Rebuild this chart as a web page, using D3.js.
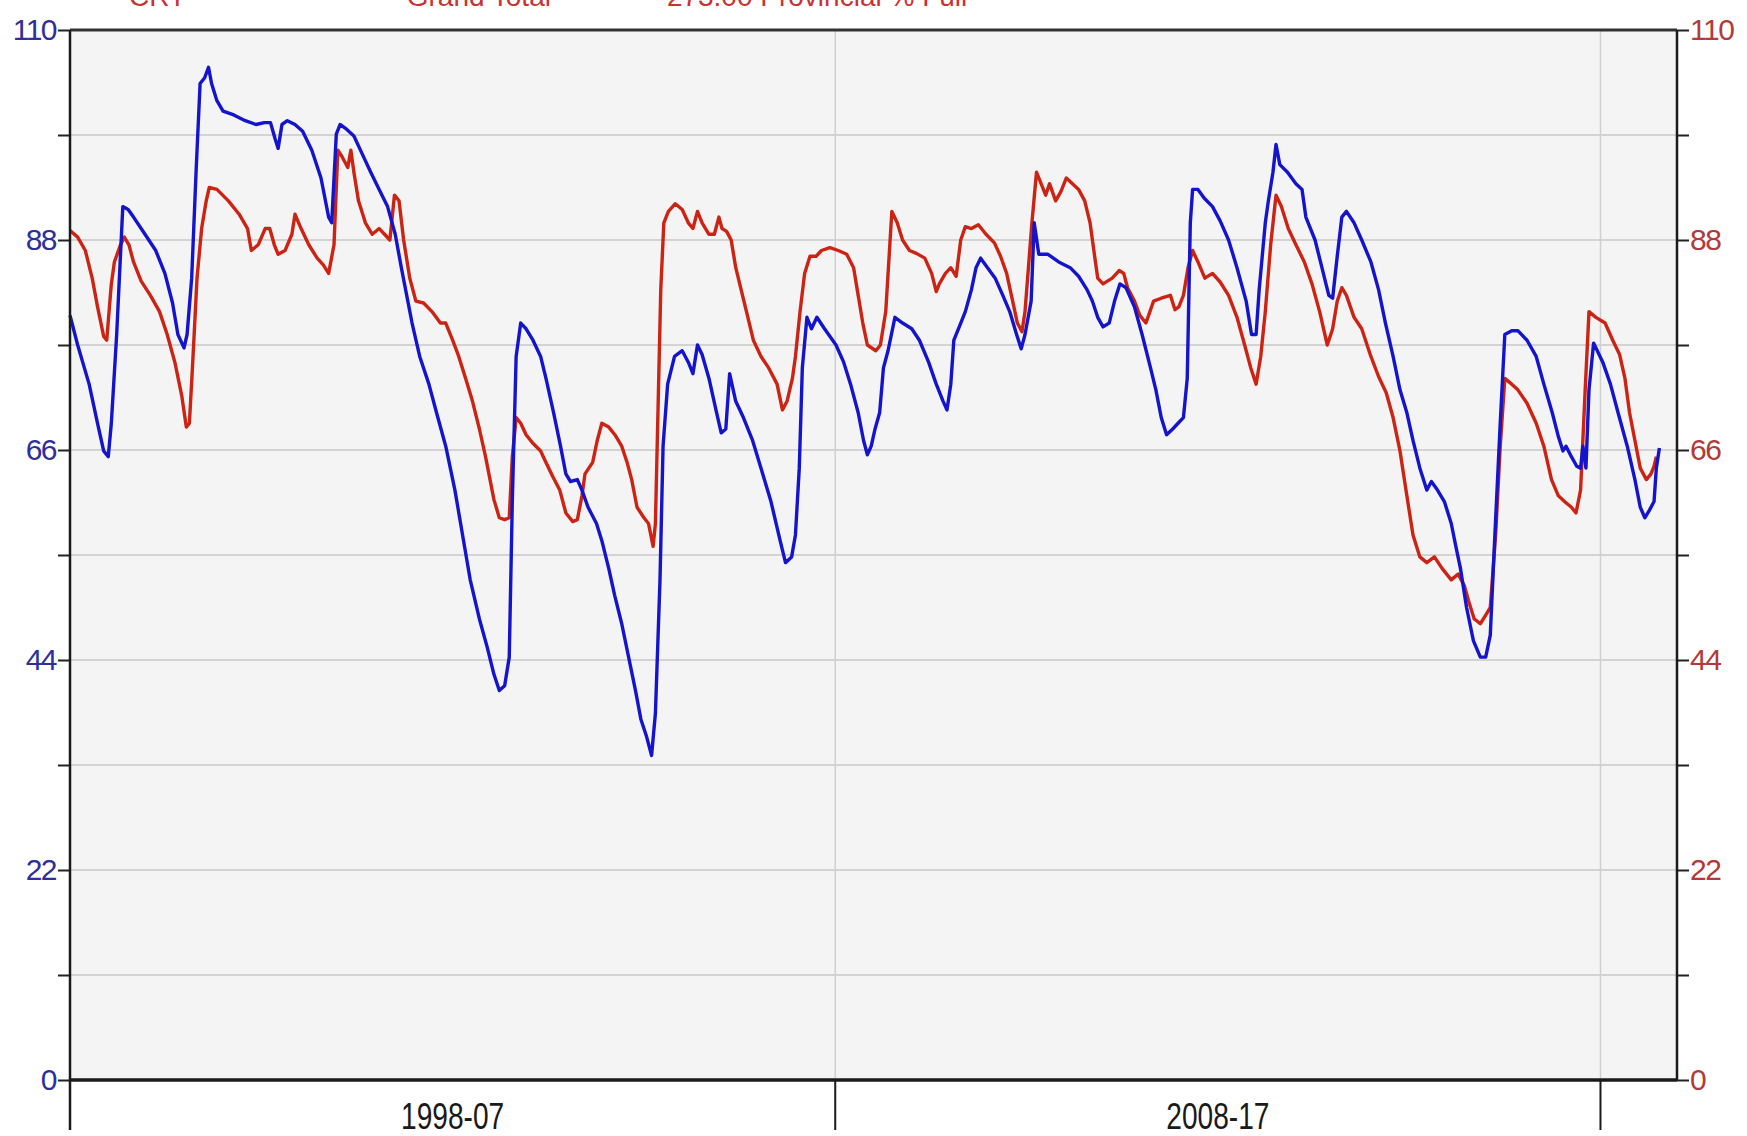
<!DOCTYPE html>
<html>
<head>
<meta charset="utf-8">
<script src="https://cdn.jsdelivr.net/npm/d3@7"></script>
<style>
  body { margin: 0; background: #fff; }
  svg { display: block; font-family: "Liberation Sans", Arial, sans-serif; }
</style>
</head>
<body>
<div id="chart"></div>
<script>
// header texts (cut off at the top of the picture, as in the original)
const headerTexts = ["CRT", "Grand Total", "273.00  Provincial % Full"];
const headerYears = [1993.77, 1997.4, 2000.8];

const yTicks = d3.range(0, 111, 11);
const xTicks = [1993, 2003, 2013];
const xLabels = ["1998-07", "2008-17"];
const xLabelYears = [1998, 2008];

// blue series (left axis)
const blueData = [[1993.00,80.1],[1993.10,77.0],[1993.25,72.9],[1993.36,68.8],[1993.44,65.9],[1993.50,65.3],[1993.54,68.8],[1993.61,78.1],[1993.69,91.5],[1993.76,91.2],[1993.83,90.4],[1993.98,88.6],[1994.12,86.9],[1994.24,84.5],[1994.34,81.4],[1994.41,78.1],[1994.49,76.7],[1994.53,78.1],[1994.59,84.0],[1994.65,95.6],[1994.70,104.4],[1994.76,105.0],[1994.81,106.1],[1994.85,104.4],[1994.92,102.6],[1995.00,101.5],[1995.14,101.1],[1995.29,100.5],[1995.43,100.1],[1995.54,100.3],[1995.62,100.3],[1995.68,98.6],[1995.72,97.6],[1995.77,100.1],[1995.84,100.5],[1995.94,100.1],[1996.04,99.4],[1996.16,97.4],[1996.28,94.5],[1996.38,90.4],[1996.42,89.8],[1996.48,99.1],[1996.53,100.1],[1996.60,99.7],[1996.71,98.9],[1996.82,97.0],[1996.93,95.1],[1997.04,93.3],[1997.15,91.5],[1997.25,88.6],[1997.33,85.1],[1997.40,82.2],[1997.47,79.3],[1997.57,75.8],[1997.69,72.9],[1997.79,69.9],[1997.91,66.4],[1998.03,61.8],[1998.13,57.1],[1998.23,52.4],[1998.35,48.3],[1998.45,45.4],[1998.54,42.5],[1998.61,40.8],[1998.68,41.3],[1998.74,44.3],[1998.78,60.6],[1998.83,75.8],[1998.89,79.3],[1998.96,78.7],[1999.05,77.5],[1999.15,75.8],[1999.22,73.5],[1999.32,69.9],[1999.41,66.4],[1999.48,63.5],[1999.54,62.7],[1999.63,62.9],[1999.69,61.8],[1999.77,60.0],[1999.88,58.3],[1999.95,56.5],[2000.04,53.6],[2000.12,50.7],[2000.21,47.8],[2000.30,44.3],[2000.39,40.8],[2000.46,37.8],[2000.53,36.1],[2000.60,34.0],[2000.65,38.4],[2000.71,52.4],[2000.75,66.4],[2000.81,72.9],[2000.90,75.8],[2001.00,76.4],[2001.08,75.2],[2001.14,74.0],[2001.20,77.0],[2001.26,76.0],[2001.35,73.5],[2001.45,69.9],[2001.51,67.8],[2001.57,68.2],[2001.62,74.0],[2001.70,71.1],[2001.80,69.4],[2001.92,67.0],[2002.03,64.1],[2002.16,60.6],[2002.28,56.5],[2002.35,54.2],[2002.43,54.8],[2002.48,57.1],[2002.53,64.1],[2002.57,74.6],[2002.63,79.9],[2002.69,78.7],[2002.76,79.9],[2002.86,78.7],[2003.01,77.0],[2003.11,75.2],[2003.20,72.9],[2003.30,69.9],[2003.37,67.0],[2003.42,65.5],[2003.47,66.4],[2003.52,68.2],[2003.58,69.9],[2003.63,74.6],[2003.69,76.4],[2003.78,79.9],[2003.88,79.3],[2004.00,78.7],[2004.10,77.5],[2004.22,75.2],[2004.32,72.9],[2004.41,71.1],[2004.46,70.2],[2004.51,72.9],[2004.55,77.5],[2004.61,78.7],[2004.70,80.5],[2004.78,82.8],[2004.84,85.1],[2004.90,86.1],[2004.99,85.1],[2005.09,84.0],[2005.19,82.2],[2005.28,80.5],[2005.37,78.1],[2005.43,76.6],[2005.48,78.1],[2005.56,81.6],[2005.60,89.8],[2005.66,86.5],[2005.78,86.5],[2005.92,85.7],[2006.07,85.1],[2006.18,84.2],[2006.29,82.8],[2006.36,81.6],[2006.43,79.9],[2006.50,78.9],[2006.58,79.3],[2006.65,81.6],[2006.72,83.4],[2006.80,83.0],[2006.91,81.0],[2007.01,78.1],[2007.12,74.6],[2007.19,72.3],[2007.26,69.4],[2007.33,67.6],[2007.41,68.2],[2007.48,68.8],[2007.55,69.4],[2007.60,73.5],[2007.64,89.8],[2007.67,93.3],[2007.74,93.3],[2007.82,92.4],[2007.93,91.5],[2008.03,90.0],[2008.14,88.0],[2008.25,85.1],[2008.37,81.6],[2008.44,78.1],[2008.50,78.1],[2008.54,82.8],[2008.62,89.8],[2008.66,92.1],[2008.72,95.1],[2008.76,98.0],[2008.81,95.9],[2008.91,95.1],[2009.02,93.9],[2009.10,93.3],[2009.15,90.4],[2009.27,88.0],[2009.36,85.1],[2009.45,82.2],[2009.50,81.9],[2009.56,86.3],[2009.62,90.4],[2009.68,91.0],[2009.78,89.8],[2009.88,88.0],[2010.00,85.7],[2010.10,82.8],[2010.19,79.3],[2010.29,75.8],[2010.38,72.3],[2010.47,69.9],[2010.55,67.0],[2010.64,64.1],[2010.73,61.8],[2010.79,62.7],[2010.87,61.8],[2010.96,60.6],[2011.05,58.3],[2011.11,55.9],[2011.17,53.6],[2011.25,49.5],[2011.34,46.0],[2011.43,44.3],[2011.50,44.3],[2011.56,46.6],[2011.62,57.1],[2011.69,68.8],[2011.75,78.1],[2011.84,78.5],[2011.92,78.5],[2012.04,77.5],[2012.16,75.8],[2012.26,72.9],[2012.37,69.9],[2012.45,67.4],[2012.51,65.9],[2012.55,66.4],[2012.62,65.3],[2012.69,64.3],[2012.74,64.1],[2012.77,66.4],[2012.81,64.1],[2012.85,72.3],[2012.91,77.2],[2013.03,75.2],[2013.13,72.9],[2013.23,69.9],[2013.35,66.4],[2013.45,62.9],[2013.52,60.0],[2013.58,58.9],[2013.64,59.7],[2013.70,60.6],[2013.73,64.1],[2013.77,66.2]];

// red series (right axis)
const redData = [[1993.00,89.0],[1993.10,88.3],[1993.20,86.9],[1993.29,84.0],[1993.36,81.0],[1993.44,77.9],[1993.48,77.5],[1993.54,83.4],[1993.58,85.7],[1993.66,87.5],[1993.71,88.3],[1993.77,87.5],[1993.83,85.7],[1993.93,83.7],[1994.05,82.2],[1994.17,80.5],[1994.27,78.1],[1994.37,75.2],[1994.46,71.7],[1994.52,68.4],[1994.56,68.8],[1994.60,74.6],[1994.66,84.0],[1994.72,89.2],[1994.78,92.1],[1994.82,93.5],[1994.92,93.3],[1995.07,92.1],[1995.21,90.7],[1995.32,89.2],[1995.37,86.9],[1995.46,87.5],[1995.55,89.2],[1995.61,89.2],[1995.67,87.5],[1995.72,86.5],[1995.81,86.9],[1995.90,88.6],[1995.94,90.7],[1996.02,89.2],[1996.12,87.5],[1996.23,86.1],[1996.31,85.4],[1996.38,84.5],[1996.45,87.5],[1996.50,97.4],[1996.55,96.8],[1996.63,95.6],[1996.67,97.4],[1996.71,95.1],[1996.77,92.1],[1996.86,89.8],[1996.95,88.6],[1997.04,89.2],[1997.11,88.6],[1997.18,88.0],[1997.24,92.7],[1997.30,92.1],[1997.36,88.0],[1997.44,84.0],[1997.52,81.6],[1997.62,81.4],[1997.73,80.5],[1997.84,79.3],[1997.91,79.3],[1998.00,77.5],[1998.08,75.8],[1998.17,73.5],[1998.26,71.1],[1998.35,68.2],[1998.43,65.3],[1998.54,60.8],[1998.61,58.9],[1998.68,58.7],[1998.74,58.9],[1998.78,65.3],[1998.83,69.4],[1998.89,68.8],[1998.96,67.6],[1999.05,66.7],[1999.15,65.9],[1999.22,64.7],[1999.31,63.2],[1999.40,61.8],[1999.48,59.4],[1999.57,58.5],[1999.63,58.7],[1999.69,61.2],[1999.73,63.5],[1999.83,64.7],[1999.89,67.0],[1999.95,68.8],[2000.04,68.4],[2000.12,67.6],[2000.21,66.4],[2000.28,64.7],[2000.34,62.9],[2000.41,60.0],[2000.50,58.9],[2000.56,58.3],[2000.62,55.9],[2000.65,58.3],[2000.68,68.8],[2000.72,82.8],[2000.76,89.8],[2000.82,91.0],[2000.91,91.8],[2001.00,91.2],[2001.08,89.8],[2001.14,89.2],[2001.20,91.0],[2001.26,89.8],[2001.35,88.6],[2001.42,88.6],[2001.48,90.4],[2001.52,89.2],[2001.58,88.9],[2001.64,88.0],[2001.70,85.1],[2001.77,82.8],[2001.84,80.5],[2001.93,77.5],[2002.03,75.8],[2002.13,74.6],[2002.24,72.9],[2002.31,70.2],[2002.37,71.1],[2002.44,73.5],[2002.48,75.8],[2002.54,80.5],[2002.60,84.5],[2002.67,86.3],[2002.75,86.3],[2002.82,86.9],[2002.93,87.2],[2003.04,86.9],[2003.15,86.5],[2003.24,85.1],[2003.30,82.2],[2003.36,79.3],[2003.42,77.0],[2003.53,76.4],[2003.59,77.0],[2003.66,80.5],[2003.74,91.0],[2003.81,89.8],[2003.88,88.0],[2003.97,86.9],[2004.06,86.6],[2004.17,86.1],[2004.26,84.5],[2004.32,82.6],[2004.36,83.4],[2004.44,84.5],[2004.51,85.1],[2004.58,84.2],[2004.64,88.0],[2004.70,89.4],[2004.78,89.2],[2004.87,89.6],[2004.97,88.6],[2005.08,87.7],[2005.16,86.3],[2005.24,84.5],[2005.31,81.9],[2005.38,79.3],[2005.44,78.4],[2005.48,80.5],[2005.57,89.8],[2005.63,95.1],[2005.69,93.9],[2005.75,92.7],[2005.80,93.9],[2005.88,92.1],[2005.95,93.1],[2006.02,94.5],[2006.10,93.9],[2006.18,93.3],[2006.26,92.1],[2006.33,89.8],[2006.39,86.3],[2006.43,84.0],[2006.50,83.4],[2006.62,84.0],[2006.71,84.8],[2006.77,84.5],[2006.82,83.0],[2006.91,81.6],[2006.98,80.1],[2007.06,79.3],[2007.16,81.6],[2007.26,81.9],[2007.38,82.2],[2007.44,80.7],[2007.49,81.0],[2007.55,82.2],[2007.61,85.1],[2007.67,86.9],[2007.74,85.7],[2007.83,84.0],[2007.93,84.5],[2008.03,83.6],[2008.14,82.2],[2008.25,79.9],[2008.35,77.0],[2008.43,74.6],[2008.50,72.9],[2008.56,75.8],[2008.62,80.5],[2008.69,87.5],[2008.76,92.7],[2008.83,91.5],[2008.92,89.2],[2009.02,87.5],[2009.13,85.7],[2009.23,83.4],[2009.33,80.5],[2009.43,77.0],[2009.50,78.7],[2009.56,81.6],[2009.62,83.0],[2009.68,82.2],[2009.78,79.9],[2009.88,78.7],[2010.00,75.8],[2010.10,73.7],[2010.20,72.0],[2010.29,69.4],[2010.38,65.9],[2010.47,61.2],[2010.55,57.1],[2010.64,54.8],[2010.73,54.2],[2010.83,54.8],[2010.93,53.6],[2011.05,52.4],[2011.14,53.0],[2011.22,51.8],[2011.28,50.1],[2011.35,48.3],[2011.43,47.8],[2011.50,48.7],[2011.56,49.5],[2011.63,57.1],[2011.69,66.4],[2011.75,73.5],[2011.84,72.9],[2011.92,72.3],[2012.04,70.9],[2012.16,68.8],[2012.26,66.4],[2012.36,62.9],[2012.45,61.2],[2012.53,60.6],[2012.62,60.0],[2012.68,59.4],[2012.74,61.8],[2012.80,72.3],[2012.85,80.5],[2012.94,79.9],[2013.06,79.3],[2013.16,77.5],[2013.25,76.0],[2013.32,73.5],[2013.38,69.9],[2013.45,67.0],[2013.52,64.1],[2013.60,62.9],[2013.66,63.5],[2013.70,64.3],[2013.73,65.3]];

const width = 1747, height = 1136;
const margin = {top: 30, right: 70, bottom: 56, left: 70};
const blueColor = "#1414cc", redColor = "#cc2414";

const svg = d3.select("#chart").append("svg")
    .attr("width", width)
    .attr("height", height);

const x = d3.scaleLinear()
    .domain([1993, 2014])
    .range([margin.left, width - margin.right]);

const yLeft = d3.scaleLinear()
    .domain([0, 110])
    .range([height - margin.bottom, margin.top]);
const yRight = yLeft.copy();

// plot background
svg.append("rect")
    .attr("x", x(1993)).attr("y", yLeft(110))
    .attr("width", x(2014) - x(1993))
    .attr("height", yLeft(0) - yLeft(110))
    .attr("fill", "#f4f4f4");

// horizontal grid
svg.append("g").selectAll("line")
    .data(yTicks.slice(1, -1))
    .enter().append("line")
    .attr("x1", x(1993)).attr("x2", x(2014))
    .attr("y1", d => yLeft(d)).attr("y2", d => yLeft(d))
    .attr("stroke", "#c8c8c8").attr("stroke-width", 1.5);

// vertical grid
svg.append("g").selectAll("line")
    .data(xTicks.slice(1))
    .enter().append("line")
    .attr("x1", d => x(d)).attr("x2", d => x(d))
    .attr("y1", yLeft(110)).attr("y2", yLeft(0))
    .attr("stroke", "#cfcfcf").attr("stroke-width", 1.5);

// lines
const line = d3.line().x(d => x(d[0])).y(d => yLeft(d[1]));
const lineR = d3.line().x(d => x(d[0])).y(d => yRight(d[1]));

svg.append("path")
    .datum(redData)
    .attr("d", lineR)
    .attr("fill", "none")
    .attr("stroke", redColor)
    .attr("stroke-width", 3.4)
    .attr("stroke-linejoin", "round");

svg.append("path")
    .datum(blueData)
    .attr("d", line)
    .attr("fill", "none")
    .attr("stroke", blueColor)
    .attr("stroke-width", 3.4)
    .attr("stroke-linejoin", "round");

// axes
const fmt = d => (d % 22 === 0 ? d : "");

const leftAxis = svg.append("g")
    .attr("transform", `translate(${x(1993)},0)`)
    .call(d3.axisLeft(yLeft).tickValues(yTicks).tickSize(12).tickPadding(2).tickFormat(fmt));
leftAxis.select(".domain").remove();
leftAxis.selectAll(".tick line").attr("stroke", "#222").attr("stroke-width", 2);
leftAxis.selectAll("text")
    .attr("fill", "#2e2e9c")
    .style("font-size", "30px")
    .style("letter-spacing", "-1.5px");

const rightAxis = svg.append("g")
    .attr("transform", `translate(${x(2014)},0)`)
    .call(d3.axisRight(yRight).tickValues(yTicks).tickSize(12).tickPadding(1).tickFormat(fmt));
rightAxis.select(".domain").remove();
rightAxis.selectAll(".tick line").attr("stroke", "#222").attr("stroke-width", 2);
rightAxis.selectAll("text")
    .attr("fill", "#b23a3a")
    .style("font-size", "30px")
    .style("letter-spacing", "-1.5px");

// frame lines
svg.append("line")
    .attr("x1", x(1993)).attr("x2", x(2014))
    .attr("y1", yLeft(110)).attr("y2", yLeft(110))
    .attr("stroke", "#333").attr("stroke-width", 3);
svg.append("line")
    .attr("x1", x(1993)).attr("x2", x(2014))
    .attr("y1", yLeft(0)).attr("y2", yLeft(0))
    .attr("stroke", "#1a1a1a").attr("stroke-width", 3.5);
svg.append("line")
    .attr("x1", x(1993)).attr("x2", x(1993))
    .attr("y1", yLeft(110)).attr("y2", height - 6)
    .attr("stroke", "#1a1a1a").attr("stroke-width", 2.5);
svg.append("line")
    .attr("x1", x(2014)).attr("x2", x(2014))
    .attr("y1", yLeft(110)).attr("y2", yLeft(0))
    .attr("stroke", "#1a1a1a").attr("stroke-width", 2.5);

// bottom ticks and labels
svg.append("g").selectAll("line")
    .data(xTicks)
    .enter().append("line")
    .attr("x1", d => x(d)).attr("x2", d => x(d))
    .attr("y1", yLeft(0)).attr("y2", height - 6)
    .attr("stroke", "#1a1a1a").attr("stroke-width", 2);

svg.append("g").selectAll("text")
    .data(xLabels)
    .enter().append("text")
    .attr("transform", (d, i) => `translate(${x(xLabelYears[i])},${height - 7}) scale(0.76,1)`)
    .attr("text-anchor", "middle")
    .attr("fill", "#1a1a1a")
    .style("font-size", "37px")
    .text(d => d);

// header (clipped at the top edge)
svg.append("g").selectAll("text")
    .data(headerTexts)
    .enter().append("text")
    .attr("x", (d, i) => x(headerYears[i]))
    .attr("y", 6)
    .attr("fill", "#c83232")
    .style("font-size", "28px")
    .text(d => d);
</script>
</body>
</html>
